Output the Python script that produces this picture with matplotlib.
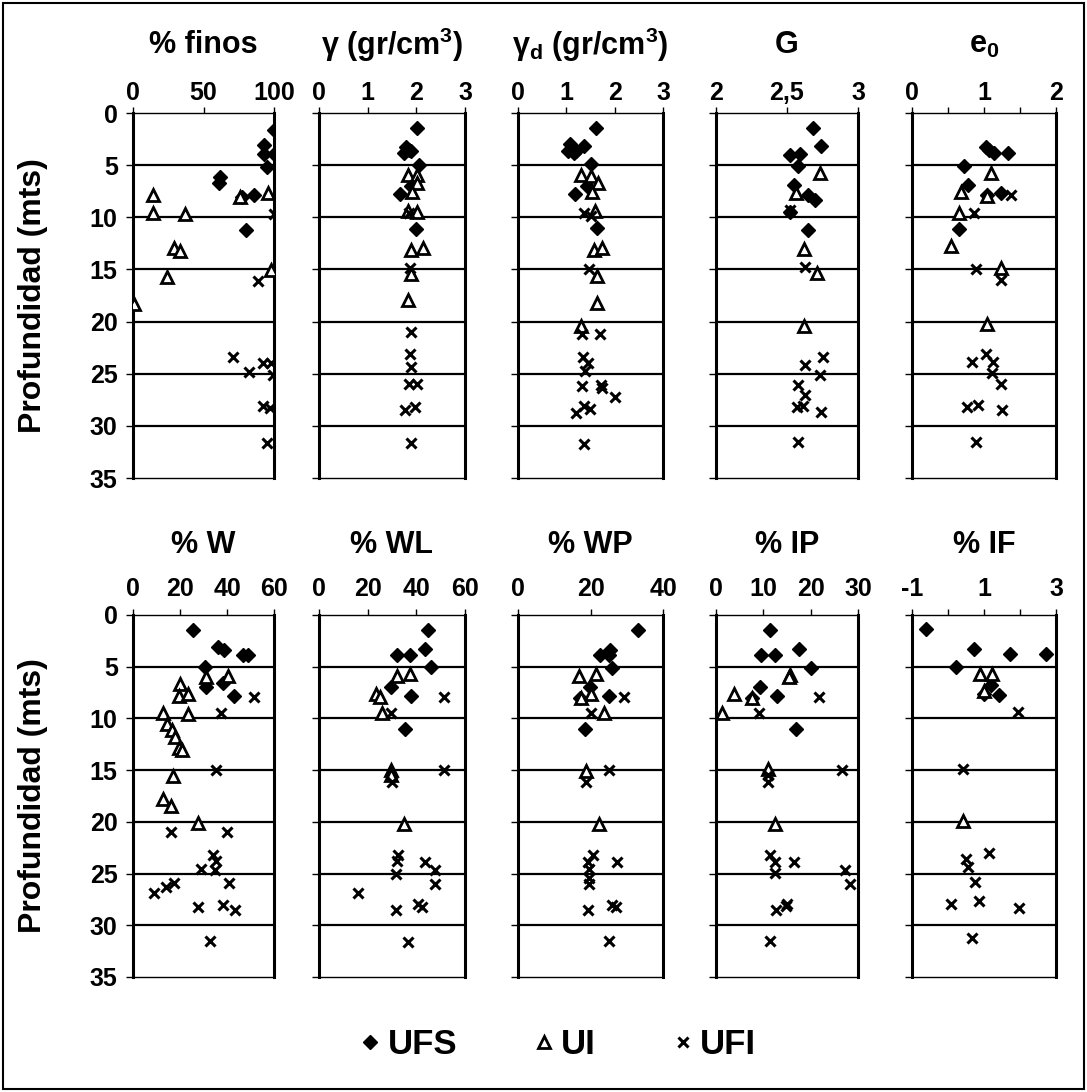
import matplotlib
matplotlib.use("Agg")
import matplotlib.pyplot as plt
from matplotlib.lines import Line2D
from matplotlib.patches import Rectangle

plt.rcParams['font.family'] = ['Liberation Sans', 'DejaVu Sans']
plt.rcParams['font.weight'] = 'bold'
plt.rcParams['mathtext.fontset'] = 'custom'
plt.rcParams['mathtext.rm'] = 'Liberation Sans:bold'
plt.rcParams['mathtext.bf'] = 'Liberation Sans:bold'
plt.rcParams['mathtext.it'] = 'Liberation Sans:bold'
plt.rcParams['mathtext.default'] = 'bf'

# ---------------- data: (value list, depth list) per unit ----------------
# % finos
finos_ufs_v = [100, 93, 93, 100, 95, 62, 61, 77, 86, 80]
finos_ufs_d = [1.6, 3.1, 3.9, 3.9, 5.2, 6.1, 6.7, 8.1, 7.9, 11.2]
finos_ui_v = [14, 14, 37, 96, 76, 29, 33, 98, 24, 0.5]
finos_ui_d = [7.9, 9.6, 9.7, 7.7, 8.1, 12.9, 13.2, 15.1, 15.7, 18.3]
finos_ufi_v = [100, 89, 71, 82, 92, 98, 99, 92, 97, 95]
finos_ufi_d = [9.7, 16.1, 23.4, 24.8, 24.0, 24.0, 25.1, 28.1, 28.3, 31.6]

# gamma
gam_ufs_v = [2.02, 1.78, 1.85, 1.75, 1.90, 2.06, 1.89, 1.67, 1.99]
gam_ufs_d = [1.4, 3.3, 3.5, 3.8, 3.6, 5.0, 7.0, 7.8, 11.1]
gam_ui_v = [1.82, 2.01, 2.01, 1.92, 1.82, 2.01, 1.90, 2.13, 1.89, 1.82]
gam_ui_d = [5.9, 5.9, 6.7, 7.6, 9.4, 9.5, 13.1, 12.9, 15.4, 17.9]
gam_ufi_v = [1.85, 1.87, 1.89, 1.87, 1.90, 1.85, 2.02, 1.76, 1.97, 1.89]
gam_ufi_d = [9.6, 14.9, 21.0, 23.1, 24.4, 26.0, 26.0, 28.5, 28.2, 31.6]

# gamma d
gd_ufs_v = [1.61, 1.08, 1.04, 1.15, 1.37, 1.21, 1.52, 1.42, 1.18, 1.63]
gd_ufs_d = [1.4, 3.0, 3.6, 3.8, 3.2, 3.6, 4.9, 7.0, 7.8, 11.0]
gd_ui_v = [1.30, 1.52, 1.66, 1.54, 1.59, 1.58, 1.74, 1.63, 1.63, 1.30]
gd_ui_d = [5.9, 6.0, 6.7, 7.6, 9.4, 13.1, 12.9, 15.6, 18.2, 20.4]
gd_ufi_v = [1.37, 1.52, 1.47, 1.33, 1.70, 1.35, 1.44, 1.39, 1.32, 1.72, 1.74,
            2.00, 1.37, 1.49, 1.19, 1.37]
gd_ufi_d = [9.6, 9.9, 15.0, 21.2, 21.2, 23.4, 24.0, 24.7, 26.2, 26.1, 26.4,
            27.2, 28.1, 28.4, 28.8, 31.7]

# G
g_ufs_v = [2.68, 2.74, 2.52, 2.59, 2.58, 2.55, 2.65, 2.70, 2.52, 2.65]
g_ufs_d = [1.4, 3.2, 4.0, 3.9, 5.1, 6.9, 7.9, 8.3, 9.5, 11.2]
g_ui_v = [2.73, 2.56, 2.62, 2.71, 2.62]
g_ui_d = [5.8, 7.7, 13.0, 15.3, 20.4]
g_ufi_v = [2.52, 2.63, 2.75, 2.63, 2.73, 2.58, 2.63, 2.57, 2.61, 2.74, 2.58]
g_ufi_d = [9.3, 14.8, 23.4, 24.2, 25.1, 26.1, 27.0, 28.2, 28.1, 28.7, 31.5]

# e0
e0_ufs_v = [1.03, 1.07, 1.14, 1.34, 0.72, 0.78, 1.04, 1.23, 0.65]
e0_ufs_d = [3.3, 3.5, 3.8, 3.8, 5.1, 6.9, 7.9, 7.7, 11.1]
e0_ui_v = [1.10, 0.68, 1.04, 0.65, 0.54, 1.23, 1.04]
e0_ui_d = [5.8, 7.6, 8.0, 9.6, 12.8, 14.9, 20.2]
e0_ufi_v = [1.37, 0.86, 0.89, 1.23, 1.03, 0.84, 1.12, 1.11, 1.24, 0.76, 0.91,
            1.25, 0.89]
e0_ufi_d = [7.9, 9.6, 15.0, 16.0, 23.1, 23.9, 23.9, 24.9, 26.0, 28.2, 28.0,
            28.5, 31.5]

# % W
w_ufs_v = [25.6, 36.1, 38.9, 46.9, 48.8, 30.5, 30.9, 38.2, 42.9]
w_ufs_d = [1.45, 3.1, 3.4, 3.85, 3.85, 5.0, 7.0, 6.6, 7.8]
w_ui_v = [30.9, 40.3, 20.2, 19.7, 23.5, 12.6, 23.5, 14.3, 16.4, 17.8, 19.7,
          20.7, 16.9, 12.6, 16.0, 27.7]
w_ui_d = [6.0, 5.9, 6.7, 7.8, 7.6, 9.5, 9.6, 10.5, 11.1, 11.8, 12.9, 13.1,
          15.6, 17.8, 18.5, 20.1]
w_ufi_v = [51.6, 37.5, 35.4, 16.0, 39.9, 34.0, 35.4, 34.7, 28.8, 41.0, 17.4,
           14.0, 9.0, 27.7, 38.2, 43.6, 32.6]
w_ufi_d = [7.9, 9.5, 15.0, 21.0, 21.0, 23.2, 23.8, 24.7, 24.6, 25.9, 25.9,
           26.3, 26.9, 28.2, 28.0, 28.5, 31.5]

# % WL
wl_ufs_v = [44.8, 43.4, 32.2, 37.3, 46.2, 29.4, 38.0, 35.5]
wl_ufs_d = [1.45, 3.3, 3.85, 3.85, 5.0, 7.0, 7.8, 11.0]
wl_ui_v = [32.2, 37.3, 23.4, 25.2, 25.7, 29.7, 29.7, 35.0]
wl_ui_d = [5.9, 5.7, 7.6, 7.9, 9.5, 15.0, 15.5, 20.2]
wl_ufi_v = [51.3, 29.7, 51.3, 29.9, 32.4, 32.2, 43.6, 47.6, 31.7, 47.8, 15.9,
            40.8, 42.5, 31.7, 36.6]
wl_ufi_d = [7.9, 9.5, 15.0, 16.1, 23.2, 23.8, 23.9, 24.7, 25.0, 26.0, 26.9,
            27.9, 28.2, 28.5, 31.6]

# % WP
wp_ufs_v = [33.2, 22.7, 25.5, 25.0, 25.9, 19.9, 25.0, 17.1, 18.4]
wp_ufs_d = [1.45, 3.85, 3.4, 3.85, 5.1, 7.0, 7.8, 8.0, 11.0]
wp_ui_v = [16.8, 21.5, 20.1, 17.5, 23.8, 18.7, 22.4]
wp_ui_d = [5.9, 5.7, 7.6, 8.0, 9.5, 15.1, 20.2]
wp_ufi_v = [29.3, 20.1, 25.2, 18.7, 20.8, 19.2, 19.6, 27.4, 19.6, 19.6, 25.9,
            27.1, 19.2, 25.0]
wp_ufi_d = [7.9, 9.5, 15.0, 16.1, 23.2, 23.9, 24.6, 23.9, 25.4, 26.0, 28.0,
            28.2, 28.5, 31.5]

# % IP
ip_ufs_v = [11.4, 9.5, 12.4, 17.6, 20.0, 9.4, 12.9, 7.7, 17.0]
ip_ufs_d = [1.45, 3.85, 3.85, 3.3, 5.1, 7.0, 7.8, 8.0, 11.0]
ip_ui_v = [15.6, 15.5, 3.7, 7.5, 1.2, 11.0, 12.4]
ip_ui_d = [5.8, 6.0, 7.6, 8.0, 9.5, 14.9, 20.2]
ip_ufi_v = [21.8, 9.1, 11.0, 11.0, 26.7, 11.4, 12.4, 12.4, 16.4, 27.2, 28.4,
            14.8, 15.0, 12.6, 11.4]
ip_ufi_d = [7.9, 9.5, 15.5, 16.1, 15.0, 23.2, 23.9, 24.9, 23.9, 24.7, 26.0,
            28.1, 27.9, 28.5, 31.5]

# % IF
if_ufs_v = [-0.61, 0.71, 1.73, 2.72, 0.23, 1.20, 1.42, 0.99]
if_ufs_d = [1.4, 3.3, 3.8, 3.8, 5.0, 6.8, 7.7, 7.6]
if_ui_v = [0.88, 1.22, 1.01, 0.43]
if_ui_d = [5.7, 5.7, 7.3, 19.9]
if_ufi_v = [1.94, 0.43, 1.14, 0.51, 0.55, 0.76, 0.09, 0.85, 1.96, 0.66]
if_ufi_d = [9.4, 14.9, 23.0, 23.6, 24.4, 25.8, 27.9, 27.7, 28.3, 31.2]

titles = ['% finos', 'γ (gr/cm$^{3}$)', 'γ$_{d}$ (gr/cm$^{3}$)', 'G', 'e$_{0}$',
          '% W', '% WL', '% WP', '% IP', '% IF']
xlims = [(0, 100), (0, 3), (0, 3), (2, 3), (0, 2),
         (0, 60), (0, 60), (0, 40), (0, 30), (-1, 3)]
xticks = [[0, 50, 100], [0, 1, 2, 3], [0, 1, 2, 3], [2, 2.5, 3], [0, 0.5, 1, 1.5, 2],
          [0, 20, 40, 60], [0, 20, 40, 60], [0, 20, 40], [0, 10, 20, 30], [-1, 0, 1, 2, 3]]
xticklabels = [['0', '50', '100'], ['0', '1', '2', '3'], ['0', '1', '2', '3'],
               ['2', '2,5', '3'], ['0', '', '1', '', '2'],
               ['0', '20', '40', '60'], ['0', '20', '40', '60'], ['0', '20', '40'],
               ['0', '10', '20', '30'], ['-1', '', '1', '', '3']]
panels = [
    (finos_ufs_v, finos_ufs_d, finos_ui_v, finos_ui_d, finos_ufi_v, finos_ufi_d),
    (gam_ufs_v, gam_ufs_d, gam_ui_v, gam_ui_d, gam_ufi_v, gam_ufi_d),
    (gd_ufs_v, gd_ufs_d, gd_ui_v, gd_ui_d, gd_ufi_v, gd_ufi_d),
    (g_ufs_v, g_ufs_d, g_ui_v, g_ui_d, g_ufi_v, g_ufi_d),
    (e0_ufs_v, e0_ufs_d, e0_ui_v, e0_ui_d, e0_ufi_v, e0_ufi_d),
    (w_ufs_v, w_ufs_d, w_ui_v, w_ui_d, w_ufi_v, w_ufi_d),
    (wl_ufs_v, wl_ufs_d, wl_ui_v, wl_ui_d, wl_ufi_v, wl_ufi_d),
    (wp_ufs_v, wp_ufs_d, wp_ui_v, wp_ui_d, wp_ufi_v, wp_ufi_d),
    (ip_ufs_v, ip_ufs_d, ip_ui_v, ip_ui_d, ip_ufi_v, ip_ufi_d),
    (if_ufs_v, if_ufs_d, if_ui_v, if_ui_d, if_ufi_v, if_ufi_d),
]
depth_ticks = [0, 5, 10, 15, 20, 25, 30, 35]
legend_labels = ['UFS', 'UI', 'UFI']

# ---------------- layout ----------------
W, H = 1087, 1092
fig = plt.figure(figsize=(W / 100, H / 100), dpi=100)
fig.patch.set_facecolor('white')
fig.add_artist(Rectangle((3 / W, 3 / H), 1 - 6 / W, 1 - 6 / H, transform=fig.transFigure,
                         fill=False, edgecolor='black', linewidth=1.5))

col_left = [133, 319, 518, 716, 912]
col_right = [274, 465, 663, 858, 1056]
row_top = [113, 615]
row_bot = [478, 977]

for i, (title, data) in enumerate(zip(titles, panels)):
    r, c = divmod(i, 5)
    l, rr = col_left[c], col_right[c]
    t, b = row_top[r], row_bot[r]
    ax = fig.add_axes([l / W, 1 - b / H, (rr - l) / W, (b - t) / H])
    ufs_v, ufs_d, ui_v, ui_d, ufi_v, ufi_d = data
    ax.plot(ufs_v, ufs_d, linestyle='none', marker='D', ms=7.5, color='black', zorder=3)
    ax.plot(ui_v, ui_d, linestyle='none', marker='^', ms=9, mfc='white', mec='black',
            mew=2, zorder=3)
    ax.plot(ufi_v, ufi_d, linestyle='none', marker='x', ms=7, color='black', mew=2.2,
            zorder=3)
    ax.set_xlim(*xlims[i])
    ax.set_ylim(35, 0)
    for d in depth_ticks[1:-1]:
        ax.axhline(d, color='black', lw=1.6, zorder=1)
    ax.xaxis.tick_top()
    ax.set_xticks(xticks[i])
    ax.set_xticklabels(xticklabels[i])
    ax.set_yticks(depth_ticks)
    ax.tick_params(axis='x', direction='out', length=4, width=1, labelsize=18,
                   pad=2 if r == 0 else 6)
    ax.tick_params(axis='y', direction='out', length=5, width=1, labelsize=18, pad=6)
    for lab in ax.get_xticklabels() + ax.get_yticklabels():
        lab.set_fontweight('bold')
    if c == 0:
        ax.set_ylabel('Profundidad (mts)', fontsize=23, fontweight='bold')
        ax.yaxis.set_label_coords(-0.60, 0.5)
    else:
        ax.set_yticklabels([])
    ax.spines['left'].set_linewidth(2.2)
    ax.spines['right'].set_linewidth(2.2)
    ax.spines['top'].set_linewidth(1.0)
    ax.spines['bottom'].set_linewidth(1.0)
    ax.text(0.5, 1.186 if r == 0 else 1.193, title, transform=ax.transAxes,
            ha='center', va='center', fontsize=22, fontweight='bold')

handles = [
    Line2D([], [], linestyle='none', marker='D', ms=7, color='black'),
    Line2D([], [], linestyle='none', marker='^', ms=8, mfc='white', mec='black', mew=2),
    Line2D([], [], linestyle='none', marker='x', ms=6.5, color='black', mew=2.2),
]
leg = fig.legend(handles, legend_labels, loc='center', ncol=3,
                 bbox_to_anchor=(0.515, 1 - 1045 / H), frameon=False,
                 prop={'size': 25, 'weight': 'bold'}, columnspacing=2.3,
                 handletextpad=0.3, handlelength=0.4)

fig.savefig('out.png', dpi=100, facecolor='white')
